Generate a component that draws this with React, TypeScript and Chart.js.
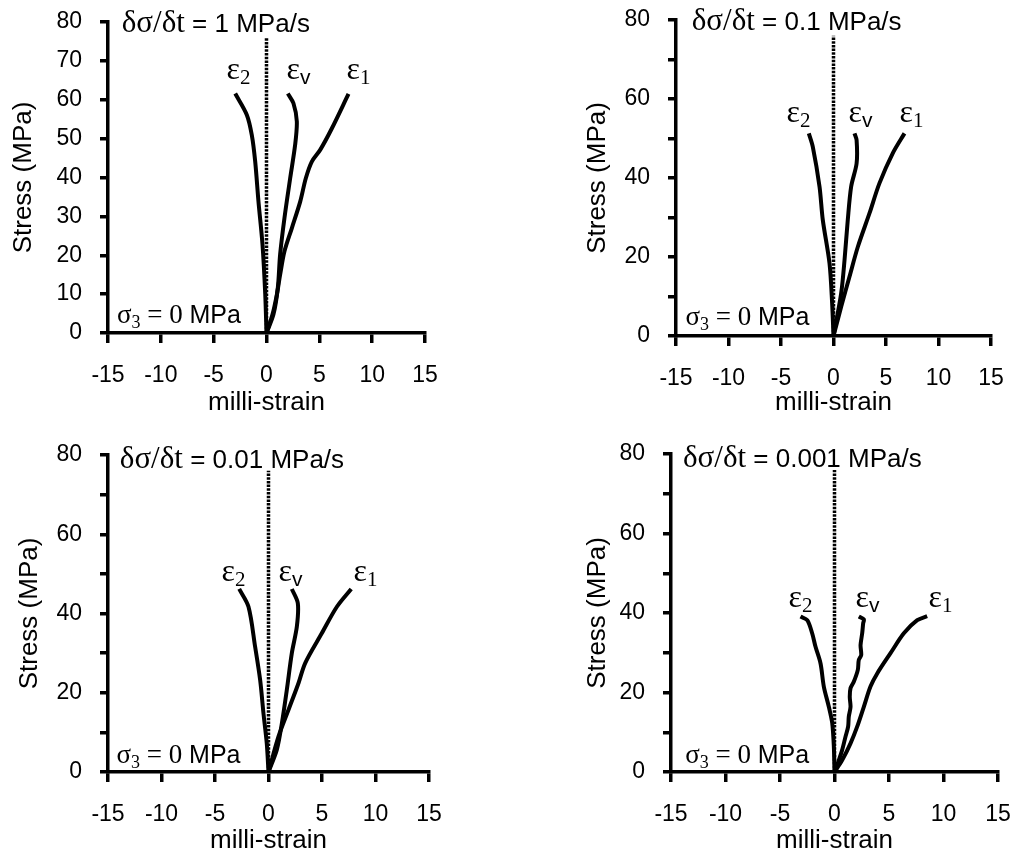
import React, { useEffect, useRef } from 'react';
import { Chart, registerables } from 'chart.js';

Chart.register(...registerables);

// ---------- DATA ----------
const strainMin = -15;
const strainMax = 15;
const strainStep = 5;
const stressMin = 0;
const stressMax = 80;
const stressStep = 10;
const yLabelSteps = [10, 20, 20, 20];
const rateLabels = ['1', '0.1', '0.01', '0.001'];
const confiningLabel = '0';
const dottedStrain = [0, 0];
const dottedStress = [0, 76];

// Panel 1: 1 MPa/s
const r1Eps1Strain = [0, 0.57, 0.98, 1.29, 1.7, 2.4, 3.19, 3.72, 4.29, 5.08, 6.18, 7.76];
const r1Eps1Stress = [0, 4.8, 9.9, 15.0, 21.0, 27.0, 33.8, 39.8, 44.1, 47.1, 52.6, 61.5];
const r1EpsVStrain = [0, 0.66, 1.07, 1.29, 1.7, 2.24, 2.71, 2.87, 2.55, 2.02];
const r1EpsVStress = [0, 4.8, 11.6, 20.2, 29.6, 39.8, 48.4, 54.4, 59.1, 61.6];
const r1Eps2Strain = [0, -0.12, -0.38, -0.76, -1.07, -1.39, -1.86, -2.96];
const r1Eps2Stress = [0, 10.0, 22.8, 33.8, 44.1, 50.9, 56.1, 61.6];

// Panel 2: 0.1 MPa/s
const r2Eps1Strain = [0, 0.73, 1.52, 2.32, 3.43, 4.38, 5.65, 6.76];
const r2Eps1Stress = [0, 7.4, 15.0, 22.6, 31.1, 38.7, 46.3, 51.3];
const r2EpsVStrain = [0, 0.73, 1.05, 1.36, 1.68, 2.2, 2.2, 2.0];
const r2EpsVStress = [0, 10.8, 19.2, 29.4, 37.8, 43.7, 49.6, 51.3];
const r2Eps2Strain = [0, -0.13, -0.38, -1.02, -1.33, -1.97, -2.35];
const r2Eps2Stress = [0, 8.3, 18.4, 29.4, 37.8, 47.9, 51.3];

// Panel 3: 0.01 MPa/s
const r3Eps1Strain = [0, 0.93, 1.87, 2.8, 3.43, 4.98, 6.39, 7.73];
const r3Eps1Stress = [0, 8.9, 15.7, 22.4, 27.5, 35.0, 41.7, 46.2];
const r3EpsVStrain = [0, 0.78, 1.25, 1.71, 2.18, 2.65, 2.74, 2.18];
const r3EpsVStress = [0, 5.6, 12.3, 20.7, 30.0, 36.7, 42.6, 46.2];
const r3Eps2Strain = [0, -0.16, -0.47, -0.78, -1.25, -1.87, -2.74];
const r3Eps2Stress = [0, 7.2, 14.8, 23.2, 31.6, 41.7, 46.2];

// Panel 4: 0.001 MPa/s
const r4Eps1Strain = [0, 0.71, 1.47, 2.08, 2.69, 3.3, 3.92, 5.14, 6.36, 7.59, 8.5];
const r4Eps1Stress = [0, 3.0, 7.2, 11.4, 16.4, 21.5, 24.8, 29.9, 34.9, 38.2, 39.2];
const r4EpsVStrain = [0, 0.4, 0.7, 1.01, 1.25, 1.31, 1.47, 1.4, 1.47, 1.77, 2.14, 2.23, 2.45, 2.39, 2.54, 2.63, 2.69, 2.23];
const r4EpsVStress = [0, 3.0, 5.5, 8.9, 11.4, 13.9, 16.4, 18.9, 21.1, 22.7, 25.7, 28.2, 29.4, 31.9, 34.9, 37.4, 38.4, 39.1];
const r4Eps2Strain = [0, -0.06, -0.21, -0.52, -0.98, -1.28, -1.74, -2.05, -2.5, -3.12];
const r4Eps2Stress = [0, 6.4, 12.3, 16.4, 21.5, 27.3, 31.5, 34.9, 38.2, 39.1];

const eps1Strain = [r1Eps1Strain, r2Eps1Strain, r3Eps1Strain, r4Eps1Strain];
const eps1Stress = [r1Eps1Stress, r2Eps1Stress, r3Eps1Stress, r4Eps1Stress];
const epsVStrain = [r1EpsVStrain, r2EpsVStrain, r3EpsVStrain, r4EpsVStrain];
const epsVStress = [r1EpsVStress, r2EpsVStress, r3EpsVStress, r4EpsVStress];
const eps2Strain = [r1Eps2Strain, r2Eps2Strain, r3Eps2Strain, r4Eps2Strain];
const eps2Stress = [r1Eps2Stress, r2Eps2Stress, r3Eps2Stress, r4Eps2Stress];

// ---------- LAYOUT (positions/styles, separate from data) ----------
type PanelLayout = {
  left: number; top: number; w: number; h: number;
  padLeft: number; padTop: number; padRight: number;
  yAxisW: number; xAxisH: number; xTitlePad: number;
  titlePos: [number, number];
  sigmaPos: [number, number];
  eps2Pos: [number, number];
  epsVPos: [number, number];
  eps1Pos: [number, number];
};

const layouts: PanelLayout[] = [
  { left: 0, top: 0, w: 500, h: 420, padLeft: 8, padTop: 22, padRight: 75, yAxisW: 100, xAxisH: 87, xTitlePad: 2,
    titlePos: [-13.7, 77.4], sigmaPos: [-14.15, 2.6], eps2Pos: [-3.78, 65.4], epsVPos: [1.89, 65.4], eps1Pos: [7.57, 65.4] },
  { left: 500, top: 0, w: 517, h: 420, padLeft: 82, padTop: 20, padRight: 26, yAxisW: 94, xAxisH: 84, xTitlePad: 2,
    titlePos: [-13.5, 77.5], sigmaPos: [-14.1, 2.8], eps2Pos: [-4.48, 54.3], epsVPos: [1.43, 54.3], eps1Pos: [6.29, 54.3] },
  { left: 0, top: 420, w: 500, h: 436, padLeft: 14, padTop: 35, padRight: 71, yAxisW: 94, xAxisH: 84, xTitlePad: 0,
    titlePos: [-13.9, 76.8], sigmaPos: [-14.2, 2.2], eps2Pos: [-4.39, 48.1], epsVPos: [0.93, 48.1], eps1Pos: [7.94, 48.1] },
  { left: 500, top: 420, w: 517, h: 436, padLeft: 82, padTop: 34, padRight: 19, yAxisW: 89, xAxisH: 84, xTitlePad: 0,
    titlePos: [-13.9, 76.8], sigmaPos: [-13.7, 2.2], eps2Pos: [-4.22, 41.6], epsVPos: [1.93, 41.6], eps1Pos: [8.62, 41.6] },
];

const SANS = '"Liberation Sans", Arial, sans-serif';
const SERIF = '"Liberation Serif", "Times New Roman", serif';

type Run = { text: string; font: string; dy?: number };
type TextItem = { x: number; y: number; runs: Run[] };

const textPlugin = {
  id: 'panelText',
  afterDatasetsDraw(chart: any, _args: any, opts: any) {
    const { ctx, scales } = chart;
    const xs = scales.x;
    const ys = scales.y;
    ctx.save();
    ctx.fillStyle = '#000';
    ctx.textBaseline = 'alphabetic';
    ctx.textAlign = 'left';
    for (const item of (opts.items || []) as TextItem[]) {
      let px = xs.getPixelForValue(item.x);
      const py = ys.getPixelForValue(item.y);
      for (const r of item.runs) {
        ctx.font = r.font;
        ctx.fillText(r.text, px, py + (r.dy || 0));
        px += ctx.measureText(r.text).width;
      }
    }
    ctx.restore();
  },
};

const pts = (xs: number[], ys: number[]) => xs.map((x, i) => ({ x, y: ys[i] }));

function epsRuns(sub: string, subFont: string): Run[] {
  return [
    { text: 'ε', font: `32px ${SERIF}` },
    { text: sub, font: subFont, dy: 5 },
  ];
}

function Panel({ idx }: { idx: number }) {
  const ref = useRef<HTMLCanvasElement | null>(null);
  const L = layouts[idx];
  useEffect(() => {
    if (!ref.current) return;
    const lineStyle = { borderColor: '#000', borderWidth: 4, pointRadius: 0, showLine: true, tension: 0.3, fill: false };
    const items: TextItem[] = [
      { x: L.titlePos[0], y: L.titlePos[1], runs: [
        { text: 'δσ/δt', font: `31px ${SERIF}` },
        { text: ` = ${rateLabels[idx]} MPa/s`, font: `26px ${SANS}` },
      ] },
      { x: L.sigmaPos[0], y: L.sigmaPos[1], runs: [
        { text: 'σ', font: `27px ${SERIF}` },
        { text: '3', font: `18px ${SERIF}`, dy: 5 },
        { text: ` = ${confiningLabel} `, font: `27px ${SERIF}` },
        { text: 'MPa', font: `25px ${SANS}` },
      ] },
      { x: L.eps2Pos[0], y: L.eps2Pos[1], runs: epsRuns('2', `21px ${SERIF}`) },
      { x: L.epsVPos[0], y: L.epsVPos[1], runs: epsRuns('v', `21px ${SANS}`) },
      { x: L.eps1Pos[0], y: L.eps1Pos[1], runs: epsRuns('1', `21px ${SERIF}`) },
    ];
    const step = yLabelSteps[idx];
    const chart = new Chart(ref.current, {
      type: 'scatter',
      data: {
        datasets: [
          { label: 'axis0', data: pts(dottedStrain, dottedStress), borderColor: '#000', borderWidth: 3.5, borderDash: [2.5, 1.2], pointRadius: 0, showLine: true, tension: 0 } as any,
          { label: 'ε1', data: pts(eps1Strain[idx], eps1Stress[idx]), ...lineStyle } as any,
          { label: 'εv', data: pts(epsVStrain[idx], epsVStress[idx]), ...lineStyle } as any,
          { label: 'ε2', data: pts(eps2Strain[idx], eps2Stress[idx]), ...lineStyle } as any,
        ],
      },
      options: {
        responsive: false,
        animation: false,
        devicePixelRatio: 1,
        layout: { padding: { left: L.padLeft, top: L.padTop, right: L.padRight, bottom: 0 } },
        plugins: {
          legend: { display: false },
          tooltip: { enabled: false },
          panelText: { items },
        } as any,
        scales: {
          x: {
            type: 'linear',
            min: strainMin,
            max: strainMax,
            ticks: { stepSize: strainStep, color: '#000', font: { family: SANS, size: 23 }, padding: 19, maxRotation: 0, autoSkip: false },
            grid: { display: true, drawOnChartArea: false, drawTicks: true, tickLength: 10, color: '#000', lineWidth: 3.5 },
            border: { display: true, color: '#000', width: 3.5 },
            title: { display: true, text: 'milli-strain', color: '#000', font: { family: SANS, size: 26 }, padding: { top: 0, bottom: L.xTitlePad } },
            afterFit: (s: any) => {
              s.height = L.xAxisH;
              s.paddingLeft = 0; s.paddingRight = 0; s.paddingTop = 0; s.paddingBottom = 0;
            },
          },
          y: {
            type: 'linear',
            min: stressMin,
            max: stressMax,
            ticks: {
              stepSize: stressStep, color: '#000', font: { family: SANS, size: 23 }, padding: 18, autoSkip: false,
              callback: (v: any) => (Number(v) % step === 0 ? String(v) : ''),
            },
            grid: { display: true, drawOnChartArea: false, drawTicks: true, tickLength: 8, color: '#000', lineWidth: 3.5 },
            border: { display: true, color: '#000', width: 3.5 },
            title: { display: true, text: 'Stress (MPa)', color: '#000', font: { family: SANS, size: 26 }, padding: { top: 0, bottom: 0 } },
            afterFit: (s: any) => {
              s.width = L.yAxisW;
              s.paddingLeft = 0; s.paddingRight = 0; s.paddingTop = 0; s.paddingBottom = 0;
            },
          },
        },
      } as any,
      plugins: [textPlugin as any],
    });
    return () => chart.destroy();
  }, [idx]);
  return (
    <canvas
      ref={ref}
      width={L.w}
      height={L.h}
      style={{ position: 'absolute', left: L.left, top: L.top, width: L.w, height: L.h, display: 'block' }}
    />
  );
}

export default function App() {
  return (
    <div style={{ position: 'absolute', left: 0, top: 0, width: 1017, height: 856, background: '#fff', overflow: 'hidden' }}>
      {layouts.map((_, i) => (
        <Panel key={i} idx={i} />
      ))}
    </div>
  );
}
